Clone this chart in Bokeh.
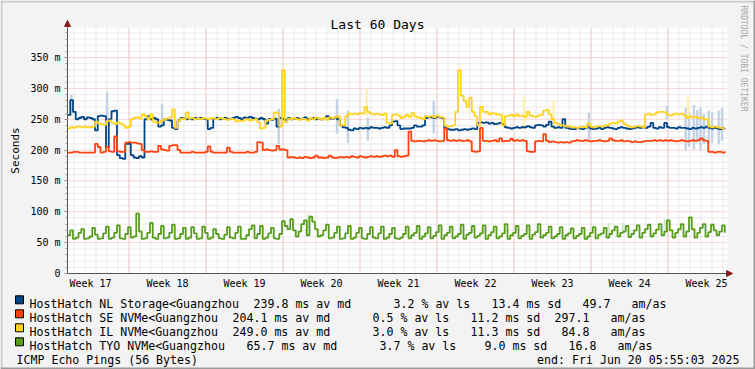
import numpy as np
from bokeh.plotting import figure
from bokeh.models import (FixedTicker, Label, Arrow, NormalHead, BoxAnnotation,
                          LinearAxis, Range1d)
from bokeh.embed import file_html
from bokeh.resources import INLINE

# ---------------- data (6-hour steps over the last 60 days, ms) ----------------
STEP_DAYS = 0.25

nl_storage = [
    257, 281, 262, 250, 252, 254, 250, 253, 252, 250, 232, 255, 256, 255, 205, 250,
    263, 264, 192, 187, 186, 210, 210, 192, 188, 187, 190, 188, 250, 255, 250, 252,
    250, 238, 240, 250, 249, 248, 236, 234, 248, 252, 251, 250, 251, 250, 252, 251,
    252, 251, 250, 234, 236, 251, 252, 250, 251, 252, 250, 251, 252, 254, 252, 250,
    253, 252, 254, 252, 251, 250, 252, 250, 243, 250, 249, 251, 238, 252, 250, 249,
    252, 250, 251, 252, 250, 251, 253, 250, 251, 252, 250, 251, 250, 252, 255, 251,
    251, 253, 250, 240, 237, 236, 233, 232, 235, 234, 236, 235, 236, 235, 237, 236,
    236, 235, 236, 237, 236, 240, 246, 247, 240, 234, 235, 235, 235, 236, 240, 238,
    238, 240, 252, 253, 253, 252, 254, 253, 252, 236, 234, 233, 233, 234, 232, 233,
    234, 233, 234, 235, 234, 244, 245, 244, 245, 243, 244, 242, 243, 244, 242, 237,
    236, 235, 236, 237, 236, 237, 237, 239, 237, 236, 240, 241, 240, 238, 241, 246,
    238, 236, 237, 236, 250, 236, 235, 234, 234, 236, 235, 234, 236, 238, 235, 234,
    235, 236, 234, 236, 237, 236, 235, 234, 236, 237, 236, 235, 234, 235, 236, 237,
    236, 237, 236, 238, 244, 236, 235, 237, 236, 244, 237, 236, 236, 235, 237, 236,
    236, 235, 234, 236, 235, 236, 237, 236, 238, 236, 235, 236, 235, 234, 235, 236,
]

se_nvme = [
    196, 196, 197, 197, 196, 196, 196, 196, 196, 196, 210, 205, 196, 197, 205, 198,
    197, 222, 198, 197, 197, 212, 213, 212, 212, 211, 210, 200, 197, 197, 198, 197,
    197, 207, 201, 200, 199, 207, 208, 208, 200, 196, 196, 196, 196, 197, 196, 196,
    196, 196, 197, 206, 197, 196, 196, 196, 196, 196, 204, 197, 196, 196, 196, 196,
    196, 197, 196, 196, 197, 213, 212, 200, 201, 200, 199, 200, 207, 201, 201, 200,
    188, 189, 188, 187, 188, 187, 189, 188, 187, 188, 191, 188, 188, 187, 188, 191,
    188, 187, 188, 189, 188, 189, 188, 190, 189, 188, 190, 189, 188, 189, 190, 189,
    190, 189, 190, 191, 190, 191, 189, 200, 190, 189, 190, 191, 230, 215, 214, 215,
    215, 214, 215, 216, 215, 216, 215, 214, 215, 235, 216, 215, 216, 215, 216, 215,
    215, 216, 214, 198, 197, 198, 236, 215, 215, 214, 215, 216, 214, 219, 214, 215,
    215, 218, 215, 216, 215, 216, 215, 198, 197, 197, 214, 215, 214, 226, 215, 213,
    214, 213, 212, 213, 212, 213, 212, 214, 215, 216, 215, 215, 216, 215, 214, 215,
    215, 216, 215, 214, 215, 219, 216, 215, 215, 216, 214, 215, 214, 213, 214, 213,
    213, 214, 215, 215, 215, 216, 215, 216, 215, 216, 215, 216, 215, 214, 215, 216,
    215, 214, 215, 216, 215, 216, 219, 216, 215, 197, 197, 196, 197, 197, 196, 198,
]

il_nvme = [
    235, 237, 236, 238, 238, 237, 238, 237, 237, 238, 246, 243, 242, 241, 247, 248,
    244, 242, 245, 243, 240, 236, 238, 250, 252, 253, 251, 258, 255, 250, 258, 246,
    244, 245, 248, 250, 251, 253, 266, 236, 248, 251, 250, 261, 251, 252, 250, 251,
    250, 252, 251, 250, 252, 251, 250, 252, 251, 250, 249, 251, 250, 246, 248, 247,
    249, 250, 248, 249, 250, 245, 235, 236, 248, 249, 250, 261, 260, 238, 330, 245,
    251, 250, 252, 250, 249, 251, 250, 248, 252, 250, 253, 251, 250, 252, 249, 253,
    252, 253, 255, 240, 240, 255, 259, 258, 259, 258, 260, 259, 270, 262, 259, 258,
    259, 258, 257, 259, 244, 243, 257, 258, 256, 252, 254, 257, 254, 260, 255, 253,
    252, 250, 255, 254, 255, 253, 256, 254, 253, 240, 238, 239, 240, 262, 330, 288,
    280, 270, 285, 262, 255, 240, 270, 262, 262, 258, 260, 259, 258, 257, 240, 255,
    256, 257, 255, 258, 255, 256, 254, 262, 256, 255, 254, 256, 257, 264, 265, 258,
    250, 244, 243, 240, 240, 238, 239, 237, 237, 236, 237, 238, 237, 243, 238, 237,
    238, 239, 238, 240, 240, 243, 244, 243, 246, 248, 243, 240, 238, 237, 238, 239,
    238, 237, 258, 259, 257, 258, 261, 262, 262, 261, 257, 256, 258, 259, 258, 259,
    256, 252, 255, 253, 254, 252, 253, 250, 250, 238, 237, 238, 237, 236, 235, 235,
]

tyo_nvme = [
    62, 70, 56, 58, 66, 72, 56, 57, 60, 74, 63, 56, 57, 65, 76, 56,
    58, 66, 78, 57, 56, 64, 75, 58, 60, 97, 68, 56, 57, 66, 82, 58,
    56, 64, 77, 57, 58, 66, 79, 56, 57, 64, 74, 56, 58, 75, 65, 56,
    57, 76, 66, 56, 58, 72, 64, 57, 56, 63, 75, 58, 57, 66, 76, 56,
    56, 62, 72, 78, 57, 64, 77, 56, 58, 65, 74, 57, 56, 64, 85, 77,
    72, 88, 70, 60, 68, 80, 86, 62, 92, 84, 72, 60, 62, 70, 79, 57,
    58, 66, 76, 56, 57, 65, 77, 56, 58, 66, 74, 57, 56, 64, 75, 58,
    57, 65, 76, 56, 58, 64, 74, 57, 56, 58, 64, 76, 57, 62, 66, 77,
    56, 60, 65, 75, 57, 61, 67, 78, 56, 62, 66, 76, 57, 60, 64, 79,
    56, 63, 66, 77, 58, 61, 65, 78, 56, 62, 67, 76, 57, 60, 65, 80,
    56, 62, 66, 77, 57, 61, 64, 78, 56, 63, 67, 80, 58, 62, 66, 76,
    57, 60, 64, 75, 56, 62, 65, 73, 57, 61, 64, 74, 56, 60, 66, 75,
    57, 63, 65, 74, 58, 64, 70, 76, 60, 66, 68, 77, 59, 64, 70, 78,
    58, 66, 72, 79, 60, 65, 71, 80, 62, 68, 86, 70, 58, 66, 72, 80,
    60, 68, 91, 72, 58, 66, 74, 80, 60, 67, 79, 70, 62, 68, 78, 66,
]

# smoke (spread) bars: day, low, high
smoke_blue_day = [0.35, 3.6, 8.6, 19.2, 24.5, 25.5, 27.3, 33.3, 47.4, 54.5,
                  56.2, 56.5, 56.95, 57.25, 57.55, 57.85, 58.3, 58.6, 59.2, 59.5]
smoke_blue_lo = [255, 248, 240, 210, 227, 212, 215, 227, 215, 250,
                 199, 205, 201, 215, 199, 210, 210, 212, 210, 215]
smoke_blue_hi = [290, 294, 275, 267, 283, 264, 253, 280, 261, 272,
                 269, 262, 273, 265, 269, 258, 264, 262, 264, 268]
smoke_yellow_day = [19.5, 27.2, 41.5, 44.2, 56.4]
smoke_yellow_lo = [248, 255, 232, 232, 250]
smoke_yellow_hi = [262, 300, 286, 280, 286]
smoke_green_day = [21.9, 49.2, 50.5, 54.3]
smoke_green_lo = [70, 66, 66, 70]
smoke_green_hi = [97, 82, 82, 88]

week_labels = ["Week 17", "Week 18", "Week 19", "Week 20", "Week 21",
               "Week 22", "Week 23", "Week 24", "Week 25"]
y_tick_values = [0, 50, 100, 150, 200, 250, 300, 350]
y_tick_labels = ["0", "50 m", "100 m", "150 m", "200 m", "250 m", "300 m", "350 m"]

series_names = ["HostHatch NL Storage<Guangzhou", "HostHatch SE NVMe<Guangzhou",
                "HostHatch IL NVMe<Guangzhou", "HostHatch TYO NVMe<Guangzhou"]
median_rtt = ["239.8", "204.1", "249.0", "65.7"]
avg_loss = ["3.2", "0.5", "3.0", "3.7"]
avg_sd = ["13.4", "11.2", "11.3", "9.0"]
am_as = ["49.7", "297.1", "84.8", "16.8"]
colors = ["#004586", "#ff420e", "#ffd320", "#579d1c"]

# ---------------- layout ----------------
W, H = 755, 369
YMAX = 398.7
FIRST_WEEK_BOUNDARY = 61.5 / 11.0  # days from start


def rx2d(rx):
    return (rx - 67) / 11.0


def ry2d(ry):
    return (273 - ry) * YMAX / 246.0


t = np.arange(len(nl_storage)) * STEP_DAYS
week_bounds = [FIRST_WEEK_BOUNDARY + 7 * k for k in range(8)]
week_label_pos = [FIRST_WEEK_BOUNDARY - 3.5 + 7 * k for k in range(len(week_labels))]
day_lines = [FIRST_WEEK_BOUNDARY - 5 + k for k in range(60)]
y_minor = [v for v in range(10, 400, 10) if v % 50]
y_major = y_tick_values[1:]

p = figure(width=W, height=H, x_range=Range1d(rx2d(0), rx2d(W)),
           y_range=Range1d(ry2d(H), ry2d(0)),
           output_backend="svg", toolbar_location=None, title=None,
           x_axis_type=None, y_axis_type=None, min_border=0)
p.min_border_left = p.min_border_right = p.min_border_top = p.min_border_bottom = 0
p.background_fill_color = "#f3f3f3"
p.border_fill_color = "#f3f3f3"
p.outline_line_color = None
p.xgrid.visible = False
p.ygrid.visible = False

MONO = "DejaVu Sans Mono"
AXIS_COLOR = "#555555"

# frame 3D border and plot canvas
p.add_layout(BoxAnnotation(left=rx2d(0), right=rx2d(2), bottom=ry2d(H), top=ry2d(0),
                           fill_color="#cbcbcb", fill_alpha=1, line_color=None, level="underlay"))
p.add_layout(BoxAnnotation(left=rx2d(0), right=rx2d(W), bottom=ry2d(2), top=ry2d(0),
                           fill_color="#cbcbcb", fill_alpha=1, line_color=None, level="underlay"))
p.add_layout(BoxAnnotation(left=rx2d(W - 2), right=rx2d(W), bottom=ry2d(H), top=ry2d(0),
                           fill_color="#999999", fill_alpha=1, line_color=None, level="underlay"))
p.add_layout(BoxAnnotation(left=rx2d(0), right=rx2d(W), bottom=ry2d(H), top=ry2d(H - 2),
                           fill_color="#999999", fill_alpha=1, line_color=None, level="underlay"))
p.add_layout(BoxAnnotation(left=0, right=60, bottom=0, top=YMAX, fill_color="white",
                           fill_alpha=1, line_color=None, level="underlay"))

# grid (minor then major), dotted
p.segment(x0=day_lines, y0=[0] * len(day_lines), x1=day_lines, y1=[YMAX] * len(day_lines),
          line_color="#d6d6d6", line_width=1, line_dash="1 1")
p.segment(x0=[0] * len(y_minor), y0=y_minor, x1=[60] * len(y_minor), y1=y_minor,
          line_color="#d6d6d6", line_width=1, line_dash="1 1")
p.segment(x0=week_bounds, y0=[0] * len(week_bounds), x1=week_bounds,
          y1=[YMAX] * len(week_bounds), line_color="#eeaaaa", line_width=1, line_dash="1 1")
p.segment(x0=[0] * len(y_major), y0=y_major, x1=[60] * len(y_major), y1=y_major,
          line_color="#eeaaaa", line_width=1, line_dash="1 1")

# smoke
p.vbar(x=smoke_blue_day, bottom=smoke_blue_lo, top=smoke_blue_hi, width=0.22,
       fill_color="#c3d2e4", line_color=None)
p.vbar(x=smoke_yellow_day, bottom=smoke_yellow_lo, top=smoke_yellow_hi, width=0.22,
       fill_color="#fff0b0", line_color=None)
p.vbar(x=smoke_green_day, bottom=smoke_green_lo, top=smoke_green_hi, width=0.22,
       fill_color="#d4e8c2", line_color=None)

# median lines
for vals, col in zip([nl_storage, se_nvme, il_nvme, tyo_nvme], colors):
    p.step(t, vals, mode="after", line_color=col, line_width=1.8)

# axes fixed at the data origin
xaxis = LinearAxis(fixed_location=0, bounds=(0, 60),
                   ticker=FixedTicker(ticks=week_label_pos))
xaxis.major_label_overrides = {pos: lab for pos, lab in zip(week_label_pos, week_labels)}
xaxis.major_tick_out = 0
xaxis.major_tick_in = 0
xaxis.minor_tick_out = 0
xaxis.minor_tick_in = 0
xaxis.major_label_standoff = 4
xaxis.axis_line_color = AXIS_COLOR
xaxis.major_label_text_font = MONO
xaxis.major_label_text_font_size = "10px"
xaxis.major_label_text_color = "black"
p.add_layout(xaxis, "below")

yaxis = LinearAxis(fixed_location=0, bounds=(0, YMAX),
                   ticker=FixedTicker(ticks=y_tick_values, minor_ticks=list(range(0, 400, 10))))
yaxis.major_label_overrides = {v: s for v, s in zip(y_tick_values, y_tick_labels)}
yaxis.major_tick_out = 3
yaxis.major_tick_in = 0
yaxis.minor_tick_out = 2
yaxis.minor_tick_in = 0
yaxis.major_label_standoff = 4
yaxis.axis_line_color = AXIS_COLOR
yaxis.major_tick_line_color = "#c06060"
yaxis.minor_tick_line_color = "#999999"
yaxis.major_label_text_font = MONO
yaxis.major_label_text_font_size = "10px"
yaxis.major_label_text_color = "black"
p.add_layout(yaxis, "left")

# axis arrows
p.add_layout(Arrow(end=NormalHead(size=6, fill_color="#8b1a1a", line_color="#8b1a1a"),
                   x_start=60, y_start=0, x_end=rx2d(732), y_end=0,
                   line_color=AXIS_COLOR, line_width=1))
p.add_layout(Arrow(end=NormalHead(size=6, fill_color="#8b1a1a", line_color="#8b1a1a"),
                   x_start=0, y_start=YMAX, x_end=0, y_end=ry2d(20),
                   line_color=AXIS_COLOR, line_width=1))

# title and side texts
p.add_layout(Label(x=rx2d(377), y=ry2d(24), text="Last 60 Days", text_align="center",
                   text_baseline="alphabetic", text_font=MONO, text_font_size="13px",
                   text_color="black"))
p.add_layout(Label(x=rx2d(15), y=ry2d(150), text="Seconds", angle=np.pi / 2,
                   text_align="center", text_baseline="alphabetic", text_font=MONO,
                   text_font_size="11px", text_color="black"))
p.add_layout(Label(x=rx2d(743), y=ry2d(5), text="RRDTOOL / TOBI OETIKER", angle=-np.pi / 2,
                   text_align="left", text_baseline="alphabetic", text_font=MONO,
                   text_font_size="8px", text_color="#a8a8a8"))

# legend
col_idx = [[0, 32, 52, 66, 79, 86], [0, 29, 49, 63, 75, 83],
           [0, 29, 49, 63, 76, 83], [0, 31, 50, 65, 77, 84]]
CHAR_W = 7.0
for i in range(4):
    base = 303.3 + 14.0 * i
    segs = [series_names[i], f"{median_rtt[i]} ms av md", f"{avg_loss[i]} % av ls",
            f"{avg_sd[i]} ms sd", am_as[i], "am/as"]
    for idx, s in zip(col_idx[i], segs):
        p.add_layout(Label(x=rx2d(29 + idx * CHAR_W), y=ry2d(base), text=s,
                           text_align="left", text_baseline="alphabetic",
                           text_font=MONO, text_font_size="11.6px", text_color="black"))
    p.add_layout(BoxAnnotation(left=rx2d(15), right=rx2d(23), top=ry2d(base - 8),
                               bottom=ry2d(base), fill_color=colors[i], fill_alpha=1.0,
                               line_color="black", line_width=1, line_alpha=1.0))

p.add_layout(Label(x=rx2d(16), y=ry2d(359.3), text="ICMP Echo Pings (56 Bytes)",
                   text_align="left", text_baseline="alphabetic", text_font=MONO,
                   text_font_size="11.6px", text_color="black"))
p.add_layout(Label(x=rx2d(739), y=ry2d(359.3), text="end: Fri Jun 20 05:55:03 2025",
                   text_align="right", text_baseline="alphabetic", text_font=MONO,
                   text_font_size="11.6px", text_color="black"))

open("out.html", "w").write(file_html(p, INLINE))
